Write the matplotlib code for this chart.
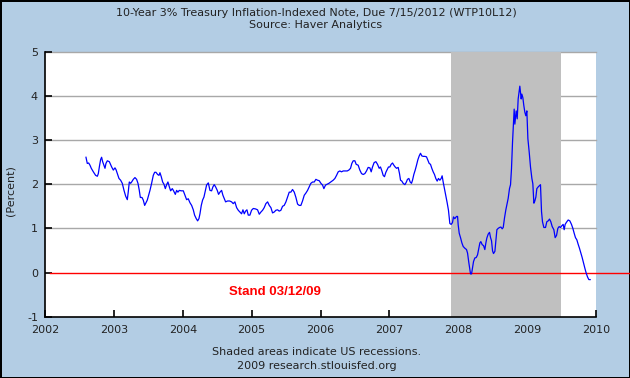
import matplotlib
matplotlib.use("Agg")
import matplotlib.pyplot as plt

# decimal years and yields (percent)
years = [
2002.595,2002.614,2002.634,2002.653,2002.672,2002.702,2002.735,2002.760,2002.774,2002.793,
2002.808,2002.822,2002.837,2002.856,2002.871,2002.885,2002.905,2002.934,2002.968,2002.992,
2003.016,2003.031,2003.050,2003.074,2003.098,2003.122,2003.147,2003.171,2003.195,2003.209,
2003.224,2003.243,2003.258,2003.282,2003.306,2003.330,2003.350,2003.369,2003.384,2003.408,
2003.427,2003.447,2003.466,2003.485,2003.505,2003.524,2003.548,2003.572,2003.592,2003.611,
2003.635,2003.655,2003.669,2003.688,2003.708,2003.727,2003.747,2003.766,2003.785,2003.805,
2003.824,2003.848,2003.867,2003.892,2003.911,2003.930,2003.950,2003.979,2004.008,2004.032,
2004.056,2004.080,2004.105,2004.129,2004.153,2004.172,2004.196,2004.216,2004.235,2004.250,
2004.269,2004.288,2004.308,2004.327,2004.346,2004.371,2004.390,
2004.395,2004.419,2004.438,2004.457,2004.477,2004.501,2004.520,2004.540,2004.564,2004.583,
2004.603,2004.622,2004.651,2004.680,2004.709,2004.733,2004.757,2004.782,2004.806,2004.830,
2004.854,2004.874,2004.893,2004.912,2004.932,2004.951,2004.975,2004.999,2005.024,2005.057,
2005.086,2005.111,2005.135,2005.159,2005.183,2005.207,2005.232,2005.256,2005.280,2005.304,
2005.328,2005.352,2005.377,2005.401,2005.425,2005.449,2005.473,2005.498,2005.522,2005.546,
2005.570,2005.594,2005.619,2005.643,2005.667,2005.691,2005.715,2005.739,2005.764,2005.788,
2005.812,2005.836,2005.860,2005.885,2005.909,2005.933,2005.957,2005.981,2006.006,2006.030,
2006.049,2006.073,2006.098,2006.122,
2006.184,2006.209,2006.233,2006.257,2006.281,2006.305,2006.330,2006.363,2006.388,2006.412,
2006.436,2006.455,2006.475,2006.499,2006.518,2006.547,2006.571,2006.596,2006.620,2006.644,
2006.668,2006.692,2006.717,2006.736,2006.755,2006.779,2006.804,2006.828,2006.852,2006.871,
2006.891,2006.910,2006.929,2006.949,2006.968,2006.987,2007.007,2007.026,2007.046,2007.065,
2007.084,2007.104,2007.128,2007.147,2007.162,2007.181,2007.200,2007.225,2007.244,2007.263,
2007.283,2007.302,2007.321,2007.336,2007.355,2007.375,2007.394,2007.413,2007.433,2007.452,
2007.471,2007.491,2007.515,2007.539,2007.558,2007.578,2007.597,2007.616,2007.636,2007.655,
2007.674,2007.694,2007.713,2007.733,2007.752,2007.766,2007.781,2007.800,2007.820,2007.839,
2007.858,2007.878,2007.897,2007.916,2007.931,2007.950,
2007.975,2007.990,2007.999,2008.014,2008.033,2008.053,2008.072,2008.096,2008.120,2008.135,
2008.154,2008.169,2008.178,2008.193,2008.207,2008.222,2008.241,2008.261,2008.280,2008.299,
2008.314,2008.328,2008.348,2008.367,2008.386,2008.401,2008.415,2008.435,2008.454,2008.469,
2008.483,2008.498,2008.512,2008.532,2008.546,2008.561,2008.580,2008.599,2008.619,2008.638,
2008.653,2008.672,2008.691,2008.711,2008.725,2008.744,2008.759,2008.773,2008.788,2008.802,
2008.812,2008.822,2008.831,2008.841,2008.856,2008.870,2008.885,2008.894,2008.904,2008.914,
2008.923,2008.938,2008.952,2008.967,2008.981,2008.996,2009.011,2009.030,2009.049,2009.069,
2009.083,2009.098,2009.112,2009.127,2009.141,2009.161,2009.175,2009.194,2009.209,2009.223,
2009.243,2009.267,2009.286,2009.306,2009.325,2009.344,2009.364,2009.388,2009.407,2009.427,
2009.446,2009.465,2009.485,2009.504,2009.523,2009.538,2009.552,2009.572,2009.596,2009.620,
2009.644,2009.664,2009.683,2009.702,2009.722,2009.741,2009.760,2009.780,2009.799,2009.818,
2009.838,2009.857,2009.877,2009.896,2009.915,
]
values = [
2.61,2.47,2.48,2.43,2.36,2.28,2.20,2.18,2.24,2.43,
2.56,2.61,2.51,2.43,2.36,2.47,2.53,2.51,2.39,2.32,
2.37,2.33,2.24,2.13,2.09,2.02,1.86,1.73,1.65,1.83,
2.05,2.02,2.05,2.11,2.15,2.11,2.02,1.86,1.70,1.70,
1.64,1.52,1.58,1.64,1.75,1.86,2.02,2.20,2.27,2.27,
2.22,2.20,2.26,2.17,2.05,2.00,1.90,1.99,2.05,1.94,
1.85,1.90,1.85,1.77,1.86,1.82,1.86,1.85,1.85,1.75,
1.65,1.67,1.58,1.52,1.42,1.30,1.22,1.17,1.22,1.33,
1.52,1.64,1.71,1.85,1.98,2.03,1.90,
1.86,1.85,1.94,1.99,1.94,1.86,1.77,1.82,1.86,1.75,
1.67,1.60,1.62,1.62,1.60,1.56,1.60,1.47,1.41,1.37,
1.33,1.42,1.33,1.39,1.42,1.30,1.30,1.41,1.45,1.44,
1.42,1.32,1.37,1.41,1.47,1.56,1.60,1.52,1.47,1.35,
1.37,1.41,1.42,1.39,1.41,1.50,1.52,1.60,1.71,1.82,
1.82,1.88,1.82,1.70,1.55,1.52,1.52,1.62,1.75,1.80,
1.86,1.94,2.02,2.05,2.05,2.11,2.09,2.08,2.02,1.98,
1.90,1.98,2.00,2.02,
2.09,2.13,2.20,2.28,2.30,2.28,2.30,2.30,2.30,2.32,
2.36,2.47,2.53,2.53,2.45,2.43,2.32,2.24,2.22,2.24,
2.30,2.38,2.37,2.28,2.39,2.49,2.51,2.45,2.36,2.39,
2.30,2.20,2.17,2.27,2.33,2.39,2.39,2.45,2.48,2.43,
2.39,2.36,2.38,2.24,2.09,2.07,2.02,1.99,2.04,2.11,
2.13,2.05,2.02,2.09,2.22,2.32,2.43,2.55,2.64,2.70,
2.64,2.63,2.63,2.62,2.55,2.47,2.45,2.36,2.28,2.22,
2.13,2.07,2.13,2.09,2.13,2.19,2.05,1.90,1.75,1.58,
1.41,1.11,1.09,1.13,1.26,1.22,
1.27,1.27,1.08,0.89,0.79,0.67,0.59,0.55,0.52,0.44,
0.22,0.07,-0.03,-0.03,0.10,0.25,0.33,0.34,0.40,0.55,
0.67,0.70,0.63,0.61,0.52,0.67,0.78,0.87,0.91,0.79,
0.72,0.49,0.43,0.48,0.72,0.97,1.00,1.02,1.03,0.99,
1.02,1.24,1.42,1.57,1.68,1.90,1.99,2.35,2.95,3.36,
3.70,3.36,3.51,3.66,3.48,3.93,4.11,4.22,4.07,3.93,
4.04,3.96,3.78,3.63,3.55,3.66,3.03,2.73,2.39,2.13,
2.01,1.57,1.62,1.71,1.90,1.94,1.96,1.99,1.38,1.15,
1.02,1.02,1.15,1.17,1.21,1.15,1.04,0.97,0.79,0.84,
1.00,1.04,1.02,1.06,1.09,0.97,1.09,1.14,1.19,1.17,
1.09,1.00,0.89,0.79,0.74,0.64,0.55,0.44,0.34,0.22,
0.10,-0.01,-0.10,-0.16,-0.16,
]
recession_start = 2007.89
recession_end = 2009.49
x_ticks = [2002, 2003, 2004, 2005, 2006, 2007, 2008, 2009, 2010]
y_ticks = [-1, 0, 1, 2, 3, 4, 5]

bg = "#B3CDE4"
fig = plt.figure(figsize=(6.3, 3.78), dpi=100)
fig.patch.set_facecolor(bg)
fig.patch.set_edgecolor("black")
fig.patch.set_linewidth(2)

ax = fig.add_axes([45/630, 1-316.7/378, (596-45)/630, (316.7-51.7)/378])
ax.set_facecolor("white")
ax.set_xlim(2002, 2010)
ax.set_ylim(-1, 5)

for yv in [1, 2, 3, 4, 5]:
    ax.axhline(yv, color="#A8A8A8", lw=1.0, zorder=1, clip_on=False)
ax.axvspan(recession_start, recession_end, color="#C0C0C0", lw=0, zorder=2)
ax.plot([2002.07, 2011.0], [0, 0], color="#FF0000", lw=1.0, zorder=3, clip_on=False)
ax.plot(years, values, color="#0000FF", lw=0.9, zorder=4)

for s in ["top", "right"]:
    ax.spines[s].set_visible(False)
for s in ["left", "bottom"]:
    ax.spines[s].set_color("black")
    ax.spines[s].set_linewidth(1.2)
    ax.spines[s].set_zorder(5)

ax.set_xticks(x_ticks)
ax.set_yticks(y_ticks)
ax.set_xticklabels([str(t) for t in x_ticks])
ax.set_yticklabels([str(t) for t in y_ticks])
ax.tick_params(axis="both", direction="in", length=5, width=1.2, color="black",
               labelsize=8, labelcolor="#222222")
ax.tick_params(axis="x", pad=6)
ax.tick_params(axis="y", pad=5)

ax.text(2005.34, -0.45, "Stand 03/12/09", color="#FF0000", fontsize=9.5,
        fontweight="bold", family=["Liberation Sans Narrow", "Liberation Sans", "DejaVu Sans"],
        ha="center", va="center", zorder=6)

fig.text(316/630, 1-12.5/378, "10-Year 3% Treasury Inflation-Indexed Note, Due 7/15/2012 (WTP10L12)",
         ha="center", va="center", fontsize=8, color="#222222")
fig.text(316/630, 1-25.5/378, "Source: Haver Analytics",
         ha="center", va="center", fontsize=8, color="#222222")
fig.text(11/630, 1-191/378, "(Percent)", rotation=90, ha="center", va="center",
         fontsize=8, color="#222222")
fig.text(317/630, 1-352/378, "Shaded areas indicate US recessions.",
         ha="center", va="center", fontsize=8, color="#222222")
fig.text(317/630, 1-366/378, "2009 research.stlouisfed.org",
         ha="center", va="center", fontsize=8, color="#222222")

fig.savefig("out.png", dpi=100, facecolor=bg, edgecolor="black")
